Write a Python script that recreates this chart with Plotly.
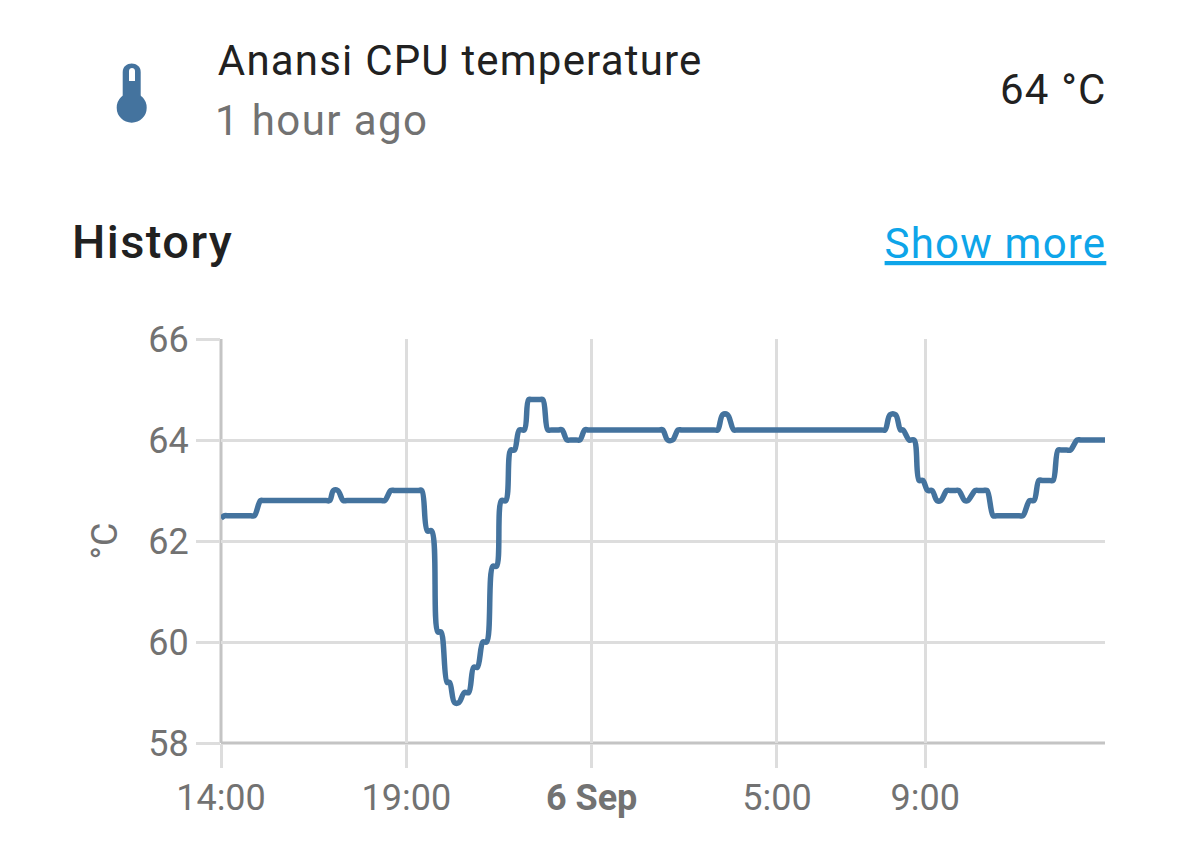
import pandas as pd
import plotly.graph_objects as go

W, H = 1179, 842
START = pd.Timestamp("2020-09-05 14:00")

minutes = [0, 6, 12, 48, 54, 64, 70, 170, 176, 182, 189, 198, 204, 259, 265, 275, 281, 319, 325, 334, 341, 351, 356, 366, 370,
           378, 385, 394, 401, 409, 415, 424, 430, 440, 446, 454, 461, 469, 475, 483, 491,
           498, 504, 515, 521, 529, 535, 546, 552, 560, 566, 575, 581, 589, 595, 709, 715, 723, 731, 740, 746, 798, 804, 812, 820, 830, 836, 1069, 1075,
           1083, 1092, 1100, 1104, 1114, 1122, 1130, 1136, 1144, 1151, 1159, 1165, 1175, 1181, 1188, 1194,
           1204, 1209, 1221, 1227, 1234, 1240, 1250, 1256, 1292, 1298, 1309, 1316, 1324, 1330, 1341, 1347, 1355, 1361, 1369, 1375, 1386, 1392, 1431]
temps = [62.45, 62.5, 62.5, 62.5, 62.5, 62.8, 62.8, 62.8, 62.8, 63.0, 63.0, 62.8, 62.8, 62.8, 62.8, 63.0, 63.0, 63.0, 63.0, 62.2, 62.2, 60.2, 60.2, 59.2, 59.2,
         58.8, 58.8, 59.0, 59.0, 59.5, 59.5, 60.0, 60.0, 61.5, 61.5, 62.8, 62.8, 63.8, 63.8, 64.2, 64.2,
         64.8, 64.8, 64.8, 64.8, 64.2, 64.2, 64.2, 64.2, 64.0, 64.0, 64.0, 64.0, 64.2, 64.2, 64.2, 64.2, 64.0, 64.0, 64.2, 64.2, 64.2, 64.2, 64.5, 64.5, 64.2, 64.2, 64.2, 64.2,
         64.5, 64.5, 64.2, 64.2, 64.0, 64.0, 63.2, 63.2, 63.0, 63.0, 62.8, 62.8, 63.0, 63.0, 63.0, 63.0,
         62.8, 62.8, 63.0, 63.0, 63.0, 63.0, 62.5, 62.5, 62.5, 62.5, 62.8, 62.8, 63.2, 63.2, 63.2, 63.2, 63.8, 63.8, 63.8, 63.8, 64.0, 64.0, 64.0]
tick_times = ["2020-09-05 14:00", "2020-09-05 19:00", "2020-09-06 00:00", "2020-09-06 05:00", "2020-09-06 09:00"]
tick_labels = ["14:00", "19:00", "<b>6 Sep</b>", "5:00", "9:00"]
y_ticks = [58, 60, 62, 64, 66]

times = [START + pd.Timedelta(minutes=m) for m in minutes]
BLUE = "#44739e"
GRID = "#dddddd"
AXIS = "#c4c4c4"
MUTED = "#727272"
DARK = "#212121"
FONT = "Roboto"
L, R, T, B = 221.0, 1105.0, 339.0, 743.0

def px(x):
    return (x - L) / (R - L)

def py(y):
    return (B - y) / (B - T)

fig = go.Figure(go.Scatter(x=times, y=temps, mode="lines",
                           line=dict(color=BLUE, width=5.5, shape="spline", smoothing=1.0),
                           hoverinfo="skip", cliponaxis=False))

def label(x, y, text, size, color, anchor="left", **font):
    fig.add_annotation(xref="paper", yref="paper", x=px(x), y=py(y), text=text, showarrow=False,
                       xanchor=anchor, yanchor="middle",
                       font=dict(family=FONT, size=size, color=color, **font))

label(228.5, 60.5, "Anansi CPU temperature", 42, DARK)
label(219.5, 120.5, "1 hour ago", 42, MUTED)
label(1106, 90, "64 °C", 42, DARK, anchor="right")
label(75, 241.5, "History", 47, DARK, anchor="left", weight=500)
label(1102.5, 243, "Show more", 42, "#0ea5e9", anchor="right", lineposition="under")

fig.add_shape(type="circle", xref="paper", yref="paper", x0=px(116.7), x1=px(146.7), y0=py(92.7), y1=py(122.7),
              fillcolor=BLUE, line_width=0)
fig.add_shape(type="path", xref="paper", yref="paper", fillcolor=BLUE, line_width=0,
              path=f"M {px(122.7)} {py(100)} L {px(122.7)} {py(72)} "
                   f"C {px(122.7)} {py(60.5)} {px(140.7)} {py(60.5)} {px(140.7)} {py(72)} "
                   f"L {px(140.7)} {py(100)} Z")
fig.add_shape(type="path", xref="paper", yref="paper", fillcolor="white", line_width=0,
              path=f"M {px(129)} {py(81)} L {px(129)} {py(71)} "
                   f"C {px(129)} {py(67)} {px(135)} {py(67)} {px(135)} {py(71)} "
                   f"L {px(135)} {py(81)} Z")
# darker axis lines sit exactly on the first gridlines
fig.add_shape(type="line", xref="paper", yref="paper", x0=0, x1=0, y0=0, y1=1, line=dict(color=AXIS, width=3), layer="between")
fig.add_shape(type="line", xref="paper", yref="paper", x0=0, x1=1, y0=0, y1=0, line=dict(color=AXIS, width=3), layer="between")

fig.update_layout(
    width=W, height=H, autosize=False, showlegend=False,
    margin=dict(l=L, r=W - R, t=T, b=H - B, pad=0),
    paper_bgcolor="white", plot_bgcolor="white",
    font=dict(family=FONT, color=MUTED),
    xaxis=dict(type="date", range=[START, START + pd.Timedelta(minutes=1431)],
               tickmode="array", tickvals=tick_times, ticktext=tick_labels,
               showgrid=True, gridcolor=GRID, gridwidth=3, zeroline=False,
               showline=False,
               ticks="outside", ticklen=24, tickwidth=3, tickcolor=GRID,
               ticklabelstandoff=-1,
               tickfont=dict(family=FONT, size=36, color=MUTED)),
    yaxis=dict(range=[58, 66], tickmode="array", tickvals=y_ticks,
               showgrid=True, gridcolor=GRID, gridwidth=3, zeroline=False,
               showline=False,
               ticks="outside", ticklen=24, tickwidth=3, tickcolor=GRID,
               tickfont=dict(family=FONT, size=36, color=MUTED),
               title=dict(text="°C", font=dict(family=FONT, size=36, color=MUTED), standoff=19)),
)

fig.write_html("out.html", config={"displayModeBar": False},
               post_script="""
document.body.style.margin='0';
document.documentElement.style.overflow='hidden';
document.querySelectorAll('.annotation-text').forEach(function(t){
  var s = t.textContent;
  t.style.letterSpacing = s === 'History' ? '1.4px' : (s === '1 hour ago' ? '1.4px' : '1.2px');
});
""")
